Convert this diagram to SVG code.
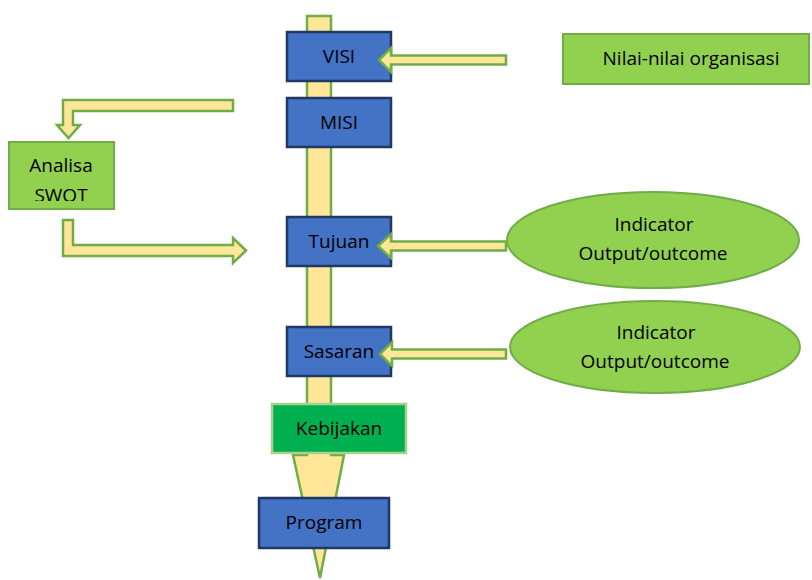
<svg xmlns="http://www.w3.org/2000/svg" width="812" height="580" viewBox="0 0 812 580">
<style>
.arrow{fill:#FFE699;stroke:#70AD47;stroke-width:2.5;stroke-linejoin:miter}
.blue{fill:#4472C4;stroke:#203864;stroke-width:2.5}
.lg{fill:#92D050;stroke:#70AD47;stroke-width:2}
.dg{fill:#00B050;stroke:#A9D18E;stroke-width:2.5}
text{font-family:"Open Sans","Liberation Sans",sans-serif;font-size:19px;fill:#000;text-anchor:middle;dominant-baseline:central}
</style>
<defs>
<clipPath id="swotclip"><rect x="9" y="142" width="105" height="59"/></clipPath>
</defs>
<g id="connectors">
<path id="main-arrow" class="arrow" d="M307,16 H331 V455 H344 L320,578 L293,455 H307 Z"/>
</g>
<g id="visi"><rect class="blue" x="287" y="32" width="104" height="49"/><text x="339" y="56">VISI</text></g>
<g id="misi"><rect class="blue" x="287" y="98" width="104" height="49"/><text x="339" y="122">MISI</text></g>
<g id="tujuan"><rect class="blue" x="287" y="217" width="104" height="49"/><text x="339" y="241">Tujuan</text></g>
<g id="sasaran"><rect class="blue" x="287" y="327" width="104" height="49"/><text x="339" y="351">Sasaran</text></g>
<g id="kebijakan"><rect class="dg" x="272" y="404" width="134" height="49"/><text x="339" y="428">Kebijakan</text></g>
<g id="program"><rect class="blue" x="259" y="498" width="130" height="50"/><text x="324" y="522">Program</text></g>
<g id="nilai"><rect class="lg" x="563" y="34" width="246" height="50"/><text x="691" y="58">Nilai-nilai organisasi</text></g>
<g id="swot"><rect class="lg" x="9" y="142" width="105" height="67"/><text x="61" y="165">Analisa</text><text x="61" y="195" clip-path="url(#swotclip)">SWOT</text></g>
<g id="indicator1"><ellipse class="lg" cx="653" cy="240" rx="146" ry="48"/><text x="654" y="224">Indicator</text><text x="653" y="253">Output/outcome</text></g>
<g id="indicator2"><ellipse class="lg" cx="655" cy="347" rx="145" ry="46"/><text x="656" y="332">Indicator</text><text x="655" y="361">Output/outcome</text></g>
<g id="connectors2">
<path class="arrow" d="M379,60 L391,48 V55.5 H506 V64.5 H391 V72 Z"/>
<path class="arrow" d="M378,246 L391,234 V241.5 H506 V250.5 H391 V258 Z"/>
<path class="arrow" d="M380,354 L392,342 V349.5 H506 V358.5 H392 V366 Z"/>
<path class="arrow" d="M233,100 H63 V125 H57 L68.5,138 L80,125 H73 V111 H233 Z"/>
<path class="arrow" d="M63,220 H73 V245 H233 V238 L246,250.5 L233,263 V256 H63 Z"/>
</g>
</svg>
